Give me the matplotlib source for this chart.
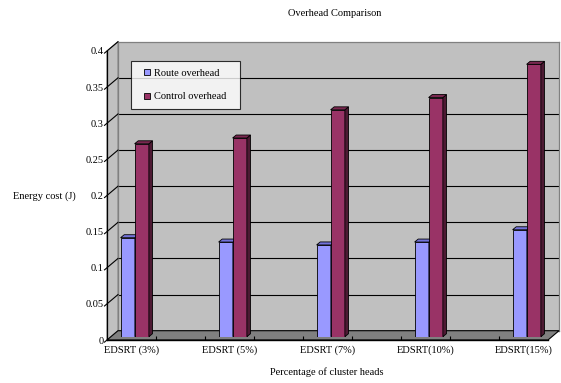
import matplotlib
matplotlib.use("Agg")
import matplotlib.pyplot as plt
import matplotlib.transforms as mtransforms
from matplotlib.patches import Polygon
from matplotlib.lines import Line2D
import numpy as np

plt.rcParams['font.family'] = ['Liberation Serif', 'DejaVu Serif']

# ---- data ----
categories = ['EDSRT (3%)', 'EDSRT (5%)', 'EDSRT (7%)', 'EDSRT(10%)', 'EDSRT(15%)']
route_overhead = [0.137, 0.131, 0.127, 0.131, 0.148]
control_overhead = [0.267, 0.275, 0.314, 0.331, 0.377]
series_names = ['Route overhead', 'Control overhead']
ytick_values = [0, 0.05, 0.1, 0.15, 0.2, 0.25, 0.3, 0.35, 0.4]
ytick_labels = ['0', '0.05', '0.1', '0.15', '0.2', '0.25', '0.3', '0.35', '0.4']

W, H = 561, 383
FS = 7.5
fig = plt.figure(figsize=(W / 100, H / 100), dpi=100)
fig.patch.set_facecolor('white')

def rect(x0, y0, x1, y1):
    # pixel box (top-left origin) -> figure fraction rect
    return [x0 / W, (H - y1) / H, (x1 - x0) / W, (y1 - y0) / H]

# pixel transform (top-left origin)
pix = mtransforms.Affine2D().scale(1 / W, -1 / H).translate(0, 1) + fig.transFigure

YMAX = 0.4
# front plane
FX0, FX1, FY0, FY1 = 107, 548, 51, 340
# depth of walls
DX, DY = 11, 9.3
XLIM = (-0.255, 4.245)

# back wall
ax_back = fig.add_axes(rect(FX0 + DX, FY0 - DY, FX1 + DX, FY1 - DY))
ax_back.set_facecolor('#c0c0c0')
ax_back.set_ylim(0, YMAX)
ax_back.set_xlim(*XLIM)
ax_back.set_xticks([])
ax_back.set_yticks(ytick_values[1:-1])
ax_back.tick_params(left=False, labelleft=False)
ax_back.yaxis.grid(True, color='black', linewidth=0.8)
for s in ax_back.spines.values():
    s.set_color('#808080')
    s.set_linewidth(0.9)
ax_back.set_zorder(0)

# front axes (scales, labels)
ax = fig.add_axes(rect(FX0, FY0, FX1, FY1))
ax.patch.set_visible(False)
ax.set_ylim(0, YMAX)
ax.set_xlim(*XLIM)
ax.set_zorder(2)
for k in ['top', 'right']:
    ax.spines[k].set_visible(False)
ax.spines['left'].set_color('black')
ax.spines['bottom'].set_color('black')
ax.spines['left'].set_linewidth(0.9)
ax.spines['bottom'].set_linewidth(1.0)
ax.set_yticks(ytick_values)
ax.set_yticklabels(ytick_labels, fontsize=FS)
ax.tick_params(axis='y', length=0, pad=2.5)
xpos = np.arange(len(categories))
ax.set_xticks(xpos)
ax.set_xticklabels(categories, fontsize=FS)
ax.tick_params(axis='x', which='major', length=0, pad=4)
ax.set_xticks(np.arange(0.24, 4.0, 0.5), minor=True)
ax.tick_params(axis='x', which='minor', direction='in', length=3, width=0.8, color='black')

# side wall and floor
def yF(v):
    return FY1 - v / YMAX * (FY1 - FY0)

side = Polygon([(FX0, FY1), (FX0, FY0), (FX0 + DX, FY0 - DY), (FX0 + DX, FY1 - DY)],
               closed=True, facecolor='#c0c0c0', edgecolor='#808080', linewidth=0.8,
               transform=pix, zorder=1)
fig.add_artist(side)
floor = Polygon([(FX0, FY1), (FX1, FY1), (FX1 + DX, FY1 - DY), (FX0 + DX, FY1 - DY)],
                closed=True, facecolor='#808080', edgecolor='black', linewidth=0.8,
                transform=pix, zorder=1)
fig.add_artist(floor)
for v in ytick_values[1:]:
    y = yF(v)
    fig.add_artist(Line2D([FX0 - 2.5, FX0 + DX], [y + 2.1, y - DY], color='black',
                          linewidth=0.8, transform=pix, zorder=1.5))
fig.add_artist(Line2D([FX0 - 2.5, FX0], [FY1 + 2.1, FY1], color='black',
                      linewidth=0.8, transform=pix, zorder=1.5))

# bars (on a plane slightly behind the front)
BDX, BDY = 3.5, 3.3
ax_bar = fig.add_axes(rect(FX0 + BDX, FY0 - BDY, FX1 + BDX, FY1 - BDY))
ax_bar.set_xlim(*XLIM)
ax_bar.set_ylim(0, YMAX)
ax_bar.axis('off')
ax_bar.set_zorder(3)

px_per_x = (FX1 - FX0) / (XLIM[1] - XLIM[0])
px_per_y = (FY1 - FY0) / YMAX
ddx = 3.6 / px_per_x
ddy = 3.0 / px_per_y
bw = 14.3 / px_per_x
offs = [-14.9 / px_per_x, -0.9 / px_per_x]
colors = [('#9999ff', '#7373d9', '#5c5cb8'), ('#993366', '#7a2850', '#4d1a33')]
vals_all = [route_overhead, control_overhead]

for si, (vals, (cf, ct, cs)) in enumerate(zip(vals_all, colors)):
    lefts = xpos + offs[si]
    ax_bar.bar(lefts, vals, width=bw, align='edge', color=cf, edgecolor='black',
               linewidth=0.6, zorder=3 + si, label=series_names[si])
    for x0, v in zip(lefts, vals):
        top = Polygon([(x0, v), (x0 + bw, v), (x0 + bw + ddx, v + ddy), (x0 + ddx, v + ddy)],
                      closed=True, facecolor=ct, edgecolor='black', linewidth=0.6, zorder=3 + si)
        sidef = Polygon([(x0 + bw, 0), (x0 + bw + ddx, ddy), (x0 + bw + ddx, v + ddy), (x0 + bw, v)],
                        closed=True, facecolor=cs, edgecolor='black', linewidth=0.6, zorder=3 + si)
        ax_bar.add_patch(sidef)
        ax_bar.add_patch(top)

# legend
handles = [Line2D([], [], marker='s', linestyle='none', markersize=4.6,
                  markerfacecolor=colors[i][0], markeredgecolor='black', markeredgewidth=0.6)
           for i in range(2)]
leg = fig.legend(handles, series_names, loc='upper left', mode='expand',
                 bbox_to_anchor=(131 / W, 1 - 109 / H, 109 / W, 48 / H), borderaxespad=0,
                 fontsize=FS, frameon=True, fancybox=False, borderpad=0.75,
                 labelspacing=1.35, handlelength=1.6, handletextpad=-0.1)
leg.get_frame().set_edgecolor('black')
leg.get_frame().set_linewidth(0.8)
leg.set_zorder(10)

# texts
fig.text(335 / W, 1 - 13 / H, 'Overhead Comparison', ha='center', va='center', fontsize=FS)
fig.text(44 / W, 1 - 196 / H, 'Energy cost (J)', ha='center', va='center', fontsize=FS)
fig.text(327 / W, 1 - 372 / H, 'Percentage of cluster heads', ha='center', va='center', fontsize=FS)

fig.savefig('out.png', dpi=100, facecolor='white')
